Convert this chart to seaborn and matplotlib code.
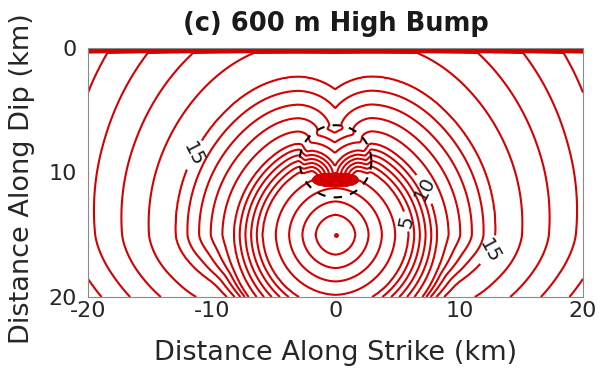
import numpy as np
import matplotlib
matplotlib.use("Agg")
import matplotlib.pyplot as plt
import seaborn as sns

# ---------------- data ----------------
title = "(c) 600 m High Bump"
x_label = "Distance Along Strike (km)"
y_label = "Distance Along Dip (km)"
x_ticks = [-20, -10, 0, 10, 20]
y_ticks = [0, 10, 20]
x_range = [-20, 20]
y_range = [0, 20]

hypocenter = [0.0, 15.0]          # km (strike, dip)
nucleation_radius = 8.4           # km, forced-rupture patch
patch_edge_width = 0.8            # km, soft edge of the patch
recovery_width = 3.0              # km beyond the patch over which rupture regains speed
bump_center = [0.0, 9.1]          # km
bump_radius = 2.9                 # km
barrier_center = [0.0, 10.6]      # stalled spot in the lower part of the bump
barrier_axes = [1.8, 0.5]         # km, half-width and half-height of that spot

# rupture-front distance (km from hypocentre, along hypocentral depth) vs time (s)
front_distance = [0.0, 1.6, 5.9, 8.2, 12.9, 19.4, 40.0]
front_time = [0.0, 1.0, 5.0, 10.0, 15.0, 18.0, 27.5]

# relative rupture speed vs depth outside the patch (slow skin at the free surface)
depth_knots = [0.0, 0.35, 0.36, 8.0, 15.0, 16.0, 18.0, 20.0]
far_speed = [0.03, 0.03, 1.25, 1.1, 1.0, 0.95, 0.85, 0.8]
edge_speed = [0.03, 0.03, 1.25, 1.1, 1.0, 0.7, 0.3, 0.15]
bump_cap_speed = 0.7
barrier_speed = 0.04

contour_levels = list(range(1, 27))
label_levels = [5, 10, 15, 15]
label_spots = [(5.5, 14.0), (7.9, 11.0), (-12.9, 7.8), (13.0, 16.5)]

# ---------------- rupture-time field (eikonal, Godunov upwind) ----------------
dx = 0.1
xs = np.arange(x_range[0], x_range[1] + dx / 2, dx)
ys = np.arange(y_range[0], y_range[1] + dx / 2, dx)
X, Y = np.meshgrid(xs, ys)
R = np.hypot(X - hypocenter[0], Y - hypocenter[1])
s_edge = np.interp(Y, depth_knots, edge_speed)
s_far = np.interp(Y, depth_knots, far_speed)
blend = np.clip((R - nucleation_radius) / recovery_width, 0.0, 1.0)
speed_out = s_edge + (s_far - s_edge) * blend
inside = np.clip((nucleation_radius - R) / patch_edge_width + 0.5, 0.0, 1.0)
inside = np.where(Y > 0.36, inside, 0.0)
speed = speed_out + (1.0 - speed_out) * inside
in_bump = (X - bump_center[0]) ** 2 + (Y - bump_center[1]) ** 2 < bump_radius ** 2
speed = np.where(in_bump & (Y < barrier_center[1]), speed * bump_cap_speed, speed)
in_barrier = ((X - barrier_center[0]) / barrier_axes[0]) ** 2 + ((Y - barrier_center[1]) / barrier_axes[1]) ** 2 < 1
speed = np.where(in_barrier, speed * barrier_speed, speed)
F = dx / speed

BIG = 1e9
T = np.where(R < 0.35, R, BIG)
for it in range(8000):
    Tp = np.pad(T, 1, constant_values=BIG)
    a = np.minimum(Tp[1:-1, :-2], Tp[1:-1, 2:])
    b = np.minimum(Tp[:-2, 1:-1], Tp[2:, 1:-1])
    d = a - b
    tn = np.where(np.abs(d) >= F, np.minimum(a, b) + F,
                  0.5 * (a + b + np.sqrt(np.maximum(2 * F * F - d * d, 0.0))))
    Tn = np.minimum(T, tn)
    if np.max(T - Tn) < 1e-7:
        T = Tn
        break
    T = Tn

rupture_time = np.interp(T, front_distance, front_time)

# ---------------- plot ----------------
sns.set_theme(style="white")
plt.rcParams["font.family"] = ["DejaVu Sans"]
plt.rcParams["axes.unicode_minus"] = False

fig = plt.figure(figsize=(6.01, 3.81), dpi=100)
ax = fig.add_axes([88 / 601, 1 - 297 / 381, (583 - 88) / 601, (297 - 48) / 381])

red = "#d50000"
plain_levels = [v for v in contour_levels if v not in label_levels]
ax.contour(X, Y, rupture_time, levels=plain_levels, colors=red, linewidths=1.5)
for lev in sorted(set(label_levels)):
    spots = [p for v, p in zip(label_levels, label_spots) if v == lev]
    cl = ax.contour(X, Y, rupture_time, levels=[lev], colors=red, linewidths=1.5)
    ax.clabel(cl, manual=spots, inline=True, fmt="%d",
              fontsize=14, colors="#1a1a1a", inline_spacing=4)
ax.plot([hypocenter[0]], [hypocenter[1]], "o", color=red, ms=2.5)

th = np.linspace(0, 2 * np.pi, 200)
ax.plot(bump_center[0] + bump_radius * np.cos(th), bump_center[1] + bump_radius * np.sin(th),
        color="black", lw=1.5, ls=(0, (4, 4)))

ax.set_xlim(x_range)
ax.set_ylim(y_range[1], y_range[0])
ax.set_xticks(x_ticks)
ax.set_yticks(y_ticks)
ax.tick_params(direction="in", length=3, width=0.6, colors="#888888", labelcolor="#262626",
               labelsize=16)
ax.tick_params(axis="x", pad=3)
ax.tick_params(axis="y", pad=8)
for s in ax.spines.values():
    s.set_color("#8a8a8a")
    s.set_linewidth(0.8)
ax.set_xlabel(x_label, fontsize=19.5, color="#262626", va="center")
ax.xaxis.set_label_coords(0.5, -(353 - 297) / 249)
ax.set_ylabel(y_label, fontsize=19.5, color="#262626", va="center")
ax.yaxis.set_label_coords(-(88 - 22) / 495, 0.5 - 6 / 249)
ax.set_title(title, fontsize=18.5, fontweight="bold", color="#1a1a1a", pad=12)

fig.savefig("out.png", dpi=100)
